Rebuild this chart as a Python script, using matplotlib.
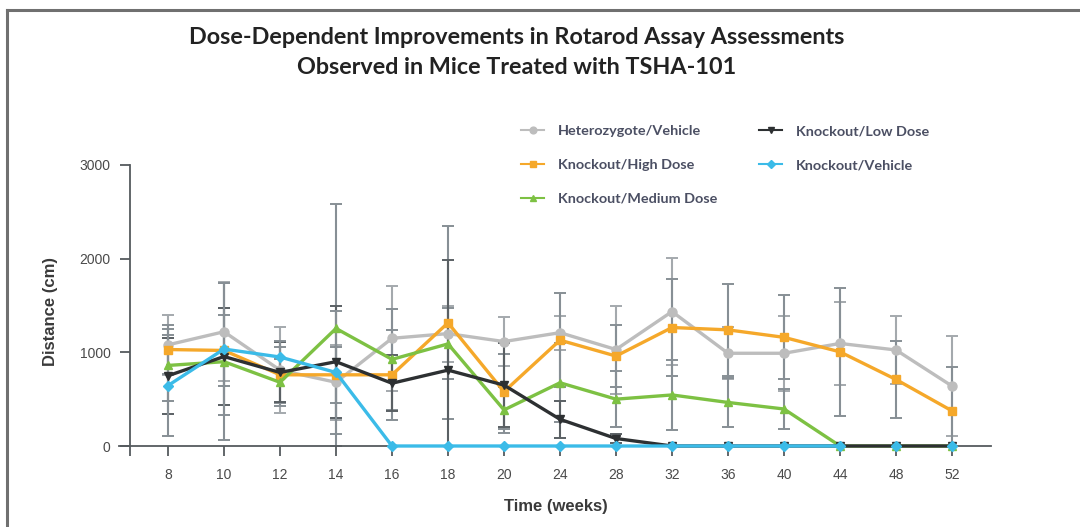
import matplotlib
matplotlib.use("Agg")
import matplotlib.pyplot as plt
import numpy as np

weeks = ['8', '10', '12', '14', '16', '18', '20', '24', '28', '32', '36', '40', '44', '48', '52']

het = [1080, 1220, 810, 680, 1150, 1200, 1115, 1210, 1030, 1435, 990, 990, 1095, 1025, 640]
het_err = [320, 530, 460, 400, 560, 300, 260, 180, 470, 570, 280, 400, 440, 360, 530]
high = [1030, 1020, 760, 760, 760, 1315, 580, 1130, 960, 1265, 1240, 1160, 1005, 710, 375]
high_err = [265, 380, 300, 300, 480, 1030, 400, 500, 330, 520, 490, 450, 680, 410, 470]
medium = [860, 900, 680, 1255, 925, 1090, 385, 675, 500, 545, 465, 395, 0, 0, 0]
medium_err = [384, 840, 250, 1330, 540, 380, 250, 420, 300, 370, 260, 210, 0, 0, 0]
low = [750, 955, 785, 900, 670, 810, 650, 285, 80, 0, 0, 0, 0, 0, 0]
low_err = [406, 520, 320, 600, 300, 1180, 450, 200, 50, 0, 0, 0, 0, 0, 0]
vehicle = [645, 1035, 950, 785, 0, 0, 0, 0, 0, 0, 0, 0, 0, 0, 0]
vehicle_err = [540, 700, 170, 660, 0, 0, 0, 0, 0, 0, 0, 0, 0, 0, 0]

W, H = 1080, 527
fig = plt.figure(figsize=(W / 100, H / 100), dpi=100)

# outer frame lines (top & left)
fig.add_artist(plt.Line2D([7 / W, 1], [1 - 10 / H, 1 - 10 / H], color='#707070', lw=2.2, transform=fig.transFigure))
fig.add_artist(plt.Line2D([7 / W, 7 / W], [0, 1 - 10 / H], color='#707070', lw=2.2, transform=fig.transFigure))

ax_l, ax_r = 119, 991
ax_t, ax_b = 165, 446
ax = fig.add_axes([ax_l / W, 1 - ax_b / H, (ax_r - ax_l) / W, (ax_b - ax_t) / H])

x = np.arange(len(weeks))
x0 = 168.0
dx = 56.0
xmin = (ax_l - x0) / dx
xmax = (ax_r - x0) / dx
yaxis_pos = (130 - x0) / dx
ax.set_xlim(xmin, xmax)
ax.set_ylim(0, 3000)

series = [
    ("Heterozygote/Vehicle", het, het_err, '#bdbdbd', 'o', 6.5, '#a4a9ad', 2),
    ("Knockout/High Dose", high, high_err, '#f5a82a', 's', 5.5, '#878f95', 3),
    ("Knockout/Medium Dose", medium, medium_err, '#7dc143', '^', 5.5, '#878f95', 4),
    ("Knockout/Low Dose", low, low_err, '#2d3032', 'v', 6.0, '#5a6064', 5),
    ("Knockout/Vehicle", vehicle, vehicle_err, '#3bbbe8', 'D', 5.0, '#878f95', 6),
]

handles = []
for name, vals, errs, col, mk, ms, ecol, z in series:
    v = np.array(vals, dtype=float)
    e = np.array(errs, dtype=float)
    lower = np.minimum(e, v)
    mask = e > 0
    ax.errorbar(x[mask], v[mask], yerr=[lower[mask], e[mask]], fmt='none', ecolor=ecol,
                elinewidth=1.5, capsize=4.5, capthick=1.4, zorder=1, clip_on=False)
    if name == "Knockout/Vehicle":
        ax.plot(x[:13], v[:13], color=col, lw=2.4, zorder=z, clip_on=False,
                solid_joinstyle='round')
        ax.plot(x, v, linestyle='none', marker=mk, ms=ms, color=col, zorder=z, clip_on=False)
    else:
        ax.plot(x, v, color=col, lw=2.4, marker=mk, ms=ms, zorder=z, clip_on=False,
                solid_joinstyle='round')
    handles.append(plt.Line2D([], [], color=col, lw=1.5, marker=mk, ms=ms * 0.75, label=name))

# spines
for s in ['top', 'right']:
    ax.spines[s].set_visible(False)
ax.spines['left'].set_position(('data', yaxis_pos))
ax.spines['left'].set_color('#555a5e')
ax.spines['bottom'].set_color('#555a5e')
ax.spines['left'].set_linewidth(1.3)
ax.spines['bottom'].set_linewidth(1.3)

ax.set_yticks([0, 1000, 2000, 3000])
ax.set_yticklabels(['0', '1000', '2000', '3000'])
ax.set_xticks(list(x) + [yaxis_pos])
ax.set_xticklabels(weeks + [''])
ax.tick_params(axis='both', direction='out', length=7, width=1.3, color='#555a5e',
               labelcolor='#4a4a4a', labelsize=10)
ax.tick_params(axis='y', pad=7)
ax.tick_params(axis='x', pad=9)
for lab in ax.get_xticklabels() + ax.get_yticklabels():
    lab.set_family(['Liberation Sans', 'DejaVu Sans'])

fig.text(50 / W, 1 - 312 / H, 'Distance (cm)', rotation=90, ha='center', va='center',
         fontsize=12, fontweight='bold', color='#3a3a3a', family=['Liberation Sans', 'DejaVu Sans'])
fig.text(556 / W, 1 - 506 / H, 'Time (weeks)', ha='center', va='center',
         fontsize=12, fontweight='bold', color='#3a3a3a', family=['Liberation Sans', 'DejaVu Sans'])

tfam = ['Lato', 'DejaVu Sans']
fig.text(517 / W, 1 - 37 / H, 'Dose-Dependent Improvements in Rotarod Assay Assessments',
         ha='center', va='center', fontsize=16.8, fontweight='bold', color='#222222', family=tfam)
fig.text(517 / W, 1 - 68 / H, 'Observed in Mice Treated with TSHA-101',
         ha='center', va='center', fontsize=16.8, fontweight='bold', color='#222222', family=tfam)

leg = fig.legend(handles=handles, loc='upper left', bbox_to_anchor=(514 / W, 1 - 118 / H),
                 ncol=2, frameon=False, borderpad=0, handlelength=1.6, handletextpad=0.95,
                 columnspacing=2.9, labelspacing=1.5,
                 prop={'family': ['Lato', 'DejaVu Sans'], 'weight': 'bold', 'size': 10.4})
for t in leg.get_texts():
    t.set_color('#4b4f63')

fig.savefig('out.png', dpi=100)
